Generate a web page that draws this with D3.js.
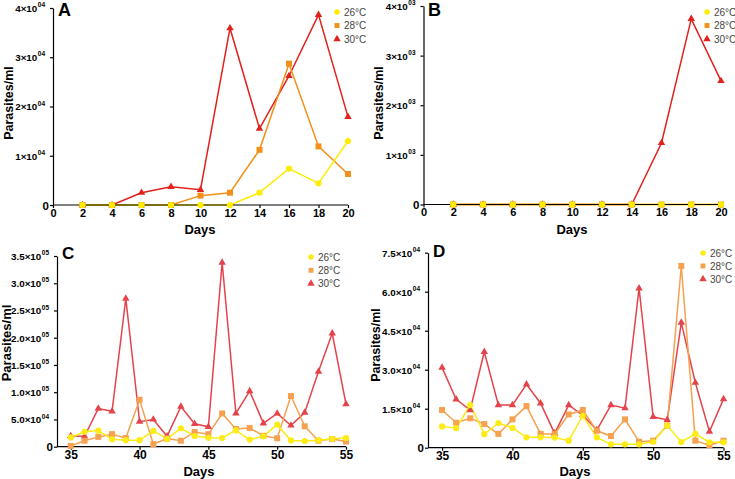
<!DOCTYPE html>
<html>
<head>
<meta charset="utf-8">
<script src="https://cdn.jsdelivr.net/npm/d3@7/dist/d3.min.js"></script>
<style>
  html, body { margin: 0; padding: 0; background: #fff; }
  svg { display: block; font-family: "Liberation Sans", Arial, sans-serif; }
</style>
</head>
<body>
<svg id="chart" width="735" height="479"></svg>
<script>
// ---------------- DATA ----------------
const seriesNames = ["26°C", "28°C", "30°C"];

// Panel A (days 2..20)
const daysAB = [2, 4, 6, 8, 10, 12, 14, 16, 18, 20];
const A_26 = [0, 0, 0, 0, 0, 0, 2500, 7400, 4400, 13000];
const A_28 = [0, 0, 0, 0, 1900, 2500, 11200, 28700, 11900, 6300];
const A_30 = [0, 0, 2500, 3700, 3100, 35900, 15500, 26200, 38600, 17900];

// Panel B (days 2..20)
const B_26 = [0, 0, 0, 0, 0, 0, 0, 0, 0, 0];
const B_28 = [0, 0, 0, 0, 0, 0, 0, 0, 0, 0];
const B_30 = [0, 0, 0, 0, 0, 0, 0, 1240, 3740, 2490];

// Panels C and D (days 35..55)
const daysCD = [35, 36, 37, 38, 39, 40, 41, 42, 43, 44, 45, 46, 47, 48, 49, 50, 51, 52, 53, 54, 55];
const C_26 = [17000, 27500, 29500, 13500, 12000, 12000, 29000, 14500, 33800, 19700, 16300, 16000, 30000, 13000, 19000, 40500, 11500, 10500, 12000, 14500, 16000];
const C_28 = [1500, 11000, 18000, 23000, 16000, 86000, 4500, 15000, 11000, 27000, 23000, 61000, 32500, 34500, 20000, 15500, 93000, 37500, 11000, 14000, 9500];
const C_30 = [19700, 19000, 70000, 65000, 272000, 46000, 50000, 19000, 73500, 42000, 36500, 338000, 61000, 102000, 43000, 61000, 39000, 62500, 138000, 208000, 78000];

const D_26 = [8200, 7500, 16400, 5200, 9500, 7600, 4000, 4000, 3900, 2700, 12300, 4000, 1300, 1300, 1300, 2300, 8500, 2200, 5300, 2100, 2100];
const D_28 = [14500, 9600, 11300, 9100, 5300, 10900, 16000, 5300, 5300, 12800, 14500, 6500, 4500, 10900, 2300, 2700, 8500, 69900, 2700, 1000, 2700];
const D_30 = [30800, 18600, 14500, 36900, 16400, 16400, 24400, 17100, 5500, 16400, 12500, 6800, 16400, 15200, 61300, 11900, 10700, 48100, 25000, 6200, 18700];

// Tick values and labels
const ticksXAB = [0, 2, 4, 6, 8, 10, 12, 14, 16, 18, 20];
const ticksXCD = [35, 40, 45, 50, 55];
const ticksYA = [0, 10000, 20000, 30000, 40000];
const labelsYA = [["0", ""], ["1×10", "04"], ["2×10", "04"], ["3×10", "04"], ["4×10", "04"]];
const ticksYB = [0, 1000, 2000, 3000, 4000];
const labelsYB = [["0", ""], ["1×10", "03"], ["2×10", "03"], ["3×10", "03"], ["4×10", "03"]];
const ticksYC = [0, 50000, 100000, 150000, 200000, 250000, 300000, 350000];
const labelsYC = [["0", ""], ["5.0×10", "04"], ["1.0×10", "05"], ["1.5×10", "05"], ["2.0×10", "05"], ["2.5×10", "05"], ["3.0×10", "05"], ["3.5×10", "05"]];
const ticksYD = [0, 15000, 30000, 45000, 60000, 75000];
const labelsYD = [["0", ""], ["1.5×10", "04"], ["3.0×10", "04"], ["4.5×10", "04"], ["6.0×10", "04"], ["7.5×10", "04"]];

// ---------------- DRAWING ----------------
const svg = d3.select("#chart");

const colorsAB = ["#FFEC00", "#F39019", "#E2201C"];
const colorsCD = ["#FCEB14", "#F5A150", "#E4434B"];
const symbols = [d3.symbolCircle, d3.symbolSquare, d3.symbolTriangle];
const symSize = [30, 36, 24];

function drawPanel(cfg) {
  const g = svg.append("g");
  const x = d3.scaleLinear().domain(cfg.xDomain).range(cfg.xRange);
  const y = d3.scaleLinear().domain(cfg.yDomain).range(cfg.yRange);

  const line = d3.line().x(d => x(d[0])).y(d => y(d[1]));

  const order = [2, 1, 0];
  order.forEach(i => {
    const pts = cfg.days.map((d, k) => [d, cfg.series[i][k]]);
    g.append("path").datum(pts)
      .attr("d", line)
      .attr("fill", "none")
      .attr("stroke", cfg.colors[i])
      .attr("stroke-width", 1.5)
      .attr("stroke-linejoin", "miter");
  });

  // X axis
  const xAxis = d3.axisBottom(x).tickValues(cfg.xTicks).tickSize(3).tickSizeOuter(0).tickPadding(1);
  const gx = g.append("g").attr("transform", `translate(0,${cfg.yRange[0]})`).call(xAxis);
  gx.select(".domain").attr("d", `M${cfg.xRange[0]},0H${cfg.xRange[1]}`).attr("stroke", "#000").attr("stroke-width", 1.2);
  gx.selectAll(".tick line").attr("stroke", "#000").attr("stroke-width", 1.2);
  gx.selectAll(".tick text")
    .attr("font-family", "'Liberation Sans', Arial, sans-serif")
    .attr("font-size", cfg.xFont).attr("font-weight", "bold").attr("fill", "#000");

  // Y axis
  const yAxis = d3.axisLeft(y).tickValues(cfg.yTicks).tickSize(3).tickSizeOuter(0).tickFormat(() => "");
  const gy = g.append("g").attr("transform", `translate(${cfg.xRange[0]},0)`).call(yAxis);
  gy.select(".domain").attr("stroke", "#000").attr("stroke-width", 1.2);
  gy.selectAll(".tick line").attr("stroke", "#000").attr("stroke-width", 1.2);
  gy.selectAll(".tick text").remove();
  gy.selectAll(".tick").each(function(v, idx) {
    const lab = cfg.yLabels[idx];
    const t = d3.select(this).append("text")
      .attr("x", lab[1] ? -8 : -4)
      .attr("dy", "0.35em")
      .attr("text-anchor", "end")
      .attr("font-family", "'Liberation Sans', Arial, sans-serif")
      .attr("font-weight", "bold")
      .attr("font-size", lab[1] ? 9.8 : 11.5)
      .attr("fill", "#000");
    t.append("tspan").text(lab[0]);
    if (lab[1]) {
      t.append("tspan").text(lab[1]).attr("font-size", 6.5).attr("dy", "-0.75em").attr("dx", "0.5");
    }
  });

  // markers
  order.forEach(i => {
    const pts = cfg.days.map((d, k) => [d, cfg.series[i][k]]);
    g.append("g").selectAll("path").data(pts).join("path")
      .attr("transform", d => `translate(${x(d[0])},${y(d[1])})`)
      .attr("d", d3.symbol().type(symbols[i]).size(symSize[i]))
      .attr("fill", cfg.colors[i]);
  });

  // axis titles
  g.append("text")
    .attr("x", cfg.xTitle[0]).attr("y", cfg.xTitle[1])
    .attr("text-anchor", "middle").attr("dy", "0.35em")
    .attr("font-weight", "bold").attr("font-size", 13).text("Days");
  g.append("text")
    .attr("transform", `translate(${cfg.yTitle[0]},${cfg.yTitle[1]}) rotate(-90)`)
    .attr("text-anchor", "middle").attr("dy", "0.35em")
    .attr("font-weight", "bold").attr("font-size", cfg.yTitleFont).text("Parasites/ml");

  // panel letter
  g.append("text")
    .attr("x", cfg.letterPos[0]).attr("y", cfg.letterPos[1])
    .attr("font-weight", "bold").attr("font-size", cfg.letterFont).text(cfg.letter);

  // legend
  seriesNames.forEach((name, i) => {
    const ly = cfg.legend[1] + i * cfg.legend[2];
    g.append("path")
      .attr("transform", `translate(${cfg.legend[0]},${ly})`)
      .attr("d", d3.symbol().type(symbols[i]).size(24))
      .attr("fill", cfg.colors[i]);
    g.append("text")
      .attr("x", cfg.legend[0] + 7).attr("y", ly).attr("dy", "0.35em")
      .attr("font-size", 10).attr("fill", "#444").text(name);
  });
}

drawPanel({
  letter: "A", letterPos: [58, 16], letterFont: 18,
  days: daysAB, series: [A_26, A_28, A_30], colors: colorsAB,
  xDomain: [0, 20], xRange: [53, 348], yDomain: [0, 40000], yRange: [205, 8],
  xTicks: ticksXAB, yTicks: ticksYA, yLabels: labelsYA, xFont: 11,
  xTitle: [200, 229], yTitle: [9, 103], yTitleFont: 12.5,
  legend: [337, 12, 13.5]
});

drawPanel({
  letter: "B", letterPos: [428, 16], letterFont: 18,
  days: daysAB, series: [B_26, B_28, B_30], colors: colorsAB,
  xDomain: [0, 20], xRange: [423.5, 721], yDomain: [0, 4000], yRange: [204.5, 6],
  xTicks: ticksXAB, yTicks: ticksYB, yLabels: labelsYB, xFont: 11,
  xTitle: [572, 229], yTitle: [379, 103], yTitleFont: 12.5,
  legend: [707, 12, 13.5]
});

drawPanel({
  letter: "C", letterPos: [62, 259], letterFont: 17,
  days: daysCD, series: [C_26, C_28, C_30], colors: colorsCD,
  xDomain: [34, 55], xRange: [57, 346], yDomain: [0, 350000], yRange: [446.7, 256],
  xTicks: ticksXCD, yTicks: ticksYC, yLabels: labelsYC, xFont: 12,
  xTitle: [199, 471], yTitle: [6, 343], yTitleFont: 13,
  legend: [311, 257, 13.3]
});

drawPanel({
  letter: "D", letterPos: [433, 257], letterFont: 17,
  days: daysCD, series: [D_26, D_28, D_30], colors: colorsCD,
  xDomain: [34, 55], xRange: [428, 723.5], yDomain: [0, 75000], yRange: [447.7, 252.7],
  xTicks: ticksXCD, yTicks: ticksYD, yLabels: labelsYD, xFont: 12,
  xTitle: [575, 471], yTitle: [376, 345], yTitleFont: 12.5,
  legend: [703, 253, 13]
});
</script>
</body>
</html>
